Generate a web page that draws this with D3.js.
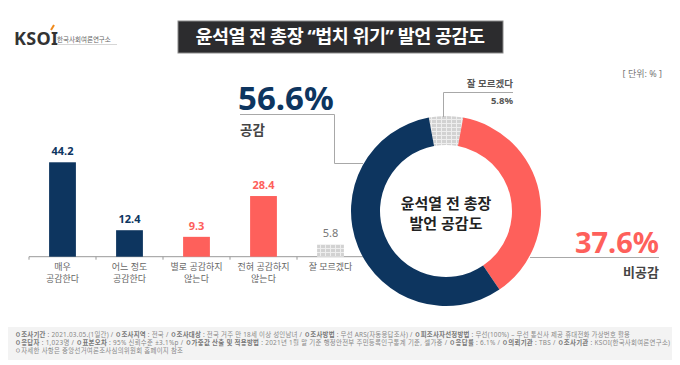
<!DOCTYPE html>
<html lang="ko">
<head>
<meta charset="UTF-8">
<title>윤석열 전 총장 법치 위기 발언 공감도</title>
<style>
  body { margin: 0; padding: 0; background: #fff; }
  svg { display: block; font-family: "Noto Sans", "Noto Sans CJK KR", sans-serif; }
</style>
</head>
<body>
<div id="chart"></div>
<script src="https://d3js.org/d3.v7.min.js"></script>
<script>
// bar chart data
const categories = ["매우\n공감한다", "어느 정도\n공감한다", "별로 공감하지\n않는다", "전혀 공감하지\n않는다", "잘 모르겠다"];
const values = [44.2, 12.4, 9.3, 28.4, 5.8];
const groups = ["agree", "agree", "disagree", "disagree", "unknown"];

// donut data (clockwise from top)
const donutNames = ["잘 모르겠다", "비공감", "공감"];
const donutKeys = ["unknown", "disagree", "agree"];
const donutValues = [5.8, 37.6, 56.6];

const title = "윤석열 전 총장 “법치 위기” 발언 공감도";
const centerLines = ["윤석열 전 총장", "발언 공감도"];
const footLines = [
  [["ㅇ조사기간", " : 2021.03.05.(1일간)  /  "], ["ㅇ조사지역", " : 전국 / "], ["ㅇ조사대상", " : 전국 거주 만 18세 이상 성인남녀 / "], ["ㅇ조사방법", " : 무선 ARS(자동응답조사) / "], ["ㅇ피조사자선정방법", " : 무선(100%) – 무선 통신사 제공 휴대전화 가상번호 활용"]],
  [["ㅇ응답자", " : 1,023명 / "], ["ㅇ표본오차", " : 95% 신뢰수준 ±3.1%p / "], ["ㅇ가중값 산출 및 적용방법", " : 2021년 1월 말 기준 행정안전부 주민등록인구통계 기준, 셀가중 / "], ["ㅇ응답률", " : 6.1% / "], ["ㅇ의뢰기관", " : TBS / "], ["ㅇ조사기관", " : KSOI(한국사회여론연구소)"]],
  [["", "ㅇ자세한 사항은 중앙선거여론조사심의위원회 홈페이지 참조"]]
];
const footWidths = [615, 655, 168];

const colors = { agree: "#0d355f", disagree: "#fe605b", unknown: "url(#dots)" };
const textColors = { agree: "#0d355f", disagree: "#fe605b", unknown: "#777" };

const W = 680, H = 365;
const svg = d3.select("#chart").append("svg")
  .attr("width", W).attr("height", H);

// grey hatched fill for "don't know"
const pat = svg.append("defs").append("pattern")
  .attr("id", "dots").attr("patternUnits", "userSpaceOnUse")
  .attr("width", 5).attr("height", 4);
pat.append("rect").attr("width", 5).attr("height", 4).attr("fill", "#d2d2d2");
pat.append("path").attr("d", "M0,0.5H5M0.5,0V4").attr("stroke", "#eeeeee").attr("stroke-width", 1);

// logo
const logo = svg.append("g");
logo.append("text").attr("x", 14).attr("y", 45)
  .attr("font-size", 18).attr("font-weight", 700).attr("fill", "#333")
  .attr("letter-spacing", 0.3).text("KSOI");
logo.append("path").attr("d", "M51,30 L54,25").attr("stroke", "#f08a1c").attr("stroke-width", 2);
logo.append("text").attr("x", 57).attr("y", 42)
  .attr("font-size", 6.5).attr("fill", "#666").text("한국사회여론연구소");
logo.append("line").attr("x1", 57).attr("x2", 117).attr("y1", 44.5).attr("y2", 44.5)
  .attr("stroke", "#bbb").attr("stroke-width", 0.6);

// title box
svg.append("rect").attr("x", 178).attr("y", 21).attr("width", 325).attr("height", 32)
  .attr("fill", "#2c2c2e").attr("stroke", "#8a8a8a").attr("stroke-width", 1);
svg.append("text").attr("x", 340).attr("y", 43).attr("text-anchor", "middle")
  .attr("font-size", 18.5).attr("font-weight", 700).attr("fill", "#fff")
  .attr("letter-spacing", -0.5).text(title);

svg.append("text").attr("x", 662).attr("y", 77).attr("text-anchor", "end")
  .attr("font-size", 9).attr("fill", "#777").text("[ 단위: % ]");

// ---- bars
const base = 256.7;
const x = d3.scaleBand().domain(categories).range([29, 364])
  .paddingInner(0.6).paddingOuter(0.3);
const y = d3.scaleLinear().domain([0, 50]).range([base, base - 50 * 2.136]);
const step = x.step();

const bars = svg.append("g");
bars.append("line").attr("x1", 29).attr("x2", 364).attr("y1", base).attr("y2", base)
  .attr("stroke", "#999").attr("stroke-width", 1);
bars.selectAll(".tick").data(categories).join("line")
  .attr("x1", d => x(d) - step * 0.3).attr("x2", d => x(d) - step * 0.3)
  .attr("y1", base).attr("y2", base + 3).attr("stroke", "#999");

bars.selectAll(".bar").data(values).join("rect")
  .attr("x", (d, i) => x(categories[i]))
  .attr("width", x.bandwidth())
  .attr("y", d => y(d))
  .attr("height", d => base - y(d))
  .attr("fill", (d, i) => colors[groups[i]]);

bars.selectAll(".val").data(values).join("text")
  .attr("x", (d, i) => x(categories[i]) + x.bandwidth() / 2)
  .attr("y", d => y(d) - 7)
  .attr("text-anchor", "middle")
  .attr("font-size", 11)
  .attr("font-weight", (d, i) => groups[i] === "unknown" ? 400 : 700)
  .attr("fill", (d, i) => textColors[groups[i]])
  .text(d => d.toFixed(1));

// category labels, one text per line
const catLines = categories.flatMap(c => c.split("\n").map((t, j) => ({ c, t, j })));
bars.selectAll(".cat").data(catLines).join("text")
  .attr("text-anchor", "middle").attr("font-size", 9).attr("fill", "#666")
  .attr("x", o => x(o.c) + x.bandwidth() / 2)
  .attr("y", o => 270 + o.j * 12)
  .text(o => o.t);

// ---- donut
const cx = 446, cy = 211;
const pie = d3.pie().sort(null)
  .startAngle(-donutValues[0] / 100 * Math.PI)
  .endAngle(2 * Math.PI - donutValues[0] / 100 * Math.PI);
const arc = d3.arc().innerRadius(66).outerRadius(95);
const donut = svg.append("g").attr("transform", `translate(${cx},${cy})`);
donut.selectAll("path").data(pie(donutValues)).join("path")
  .attr("d", arc)
  .attr("fill", (d, i) => colors[donutKeys[i]]);
donut.selectAll(".ctr").data(centerLines).join("text")
  .attr("text-anchor", "middle").attr("y", (d, i) => -2 + i * 20)
  .attr("font-size", 15).attr("font-weight", 700).attr("fill", "#222")
  .text(d => d);

// leader lines
const lead = "#a8a8a8";
svg.append("path").attr("d", "M240,114.5H334.5V163.5H363").attr("fill", "none").attr("stroke", lead);
svg.append("path").attr("d", "M443.5,117V92.5H513").attr("fill", "none").attr("stroke", lead);
svg.append("path").attr("d", "M530,257.5H659").attr("fill", "none").attr("stroke", lead);

// big labels
svg.append("text").attr("x", 238).attr("y", 110)
  .attr("font-size", 33).attr("font-weight", 700).attr("fill", textColors.agree)
  .text(donutValues[2].toFixed(1) + "%");
svg.append("text").attr("x", 240).attr("y", 135)
  .attr("font-size", 13.5).attr("font-weight", 700).attr("fill", "#444")
  .text(donutNames[2]);

svg.append("text").attr("x", 659).attr("y", 253).attr("text-anchor", "end")
  .attr("font-size", 29).attr("font-weight", 700).attr("fill", textColors.disagree)
  .text(donutValues[1].toFixed(1) + "%");
svg.append("text").attr("x", 659).attr("y", 277).attr("text-anchor", "end")
  .attr("font-size", 13).attr("font-weight", 700).attr("fill", "#444")
  .text(donutNames[1]);

svg.append("text").attr("x", 513).attr("y", 87).attr("text-anchor", "end")
  .attr("font-size", 9.5).attr("font-weight", 700).attr("fill", "#555")
  .text(donutNames[0]);
svg.append("text").attr("x", 513).attr("y", 104).attr("text-anchor", "end")
  .attr("font-size", 9.5).attr("font-weight", 700).attr("fill", "#555")
  .text(donutValues[0].toFixed(1) + "%");

// ---- footer
svg.append("rect").attr("x", 8).attr("y", 327).attr("width", 664).attr("height", 33).attr("fill", "#f3f3f3");
const foot = svg.append("g").attr("font-size", 6.4).attr("fill", "#888");
footLines.forEach((line, i) => {
  const t = foot.append("text").attr("x", 15).attr("y", 337 + i * 8)
    .attr("textLength", footWidths[i]).attr("lengthAdjust", "spacing");
  line.forEach(([label, rest]) => {
    if (label) t.append("tspan").attr("font-weight", 700).attr("fill", "#777").text(label);
    t.append("tspan").text(rest);
  });
});
</script>
</body>
</html>
